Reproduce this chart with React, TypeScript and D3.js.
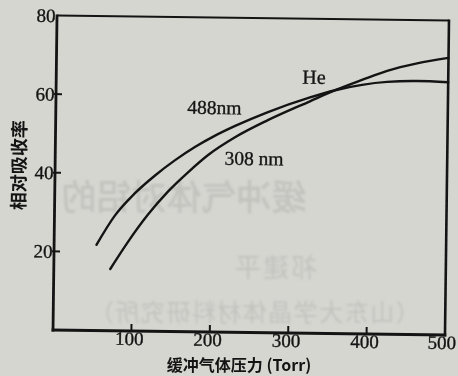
import React from "react";
import * as d3 from "d3";

const xTicks = [100, 200, 300, 400, 500];
const yTicks = [20, 40, 60, 80];

const pressure488 = [54, 77, 102, 128, 153, 178, 203, 229, 269, 324, 356, 422, 460, 500];
const abs488 = [21.8, 29.3, 35.0, 39.7, 43.6, 47.0, 49.9, 52.5, 56.0, 60.0, 61.9, 64.2, 64.5, 64.3];

const pressure308 = [72, 94, 119, 144, 170, 195, 229, 270, 324, 356, 390, 422, 460, 500];
const abs308 = [15.7, 22.6, 29.6, 35.5, 40.6, 45.0, 49.6, 54.0, 59.0, 61.9, 64.6, 67.0, 69.0, 70.5];

const xTitle = "缓冲气体压力 (Torr)";
const yTitle = "相对吸收率";
const label488 = "488nm";
const label308 = "308 nm";
const labelGas = "He";

const W = 458;
const H = 376;
const L = 55, R = 447, T = 18, B = 332.5;

export default function App() {
  const x = d3.scaleLinear().domain([0, 500]).range([L, R]);
  const y = d3.scaleLinear().domain([0, 80]).range([B, T]);
  const line = d3
    .line<[number, number]>()
    .x((d) => x(d[0]))
    .y((d) => y(d[1]))
    .curve(d3.curveMonotoneX);
  const d488 = line(pressure488.map((p, i) => [p, abs488[i]] as [number, number])) || "";
  const d308 = line(pressure308.map((p, i) => [p, abs308[i]] as [number, number])) || "";

  const ink = "#141414";
  const serif = "'Liberation Serif', 'DejaVu Serif', serif";
  const cjk = "'Noto Sans CJK SC', sans-serif";
  const ghost = "#c3c3be";

  return (
    <svg
      width={W}
      height={H}
      viewBox={`0 0 ${W} ${H}`}
      style={{ position: "absolute", left: 0, top: 0, display: "block" }}
    >
      <defs>
        <filter id="blur" x="-10%" y="-10%" width="120%" height="120%">
          <feGaussianBlur stdDeviation="1.1" />
        </filter>
      </defs>
      <rect x={0} y={0} width={W} height={H} fill="#d6d6d1" />
      {/* bleed-through from reverse side of page */}
      <g filter="url(#blur)" fill={ghost} fontFamily={cjk}>
        <text transform="translate(184,210) scale(-1,1)" fontSize={35} textAnchor="middle" fontWeight={500}>
          缓冲气体对铝的
        </text>
        <text transform="translate(275,277) scale(-1,1)" fontSize={26} textAnchor="middle" letterSpacing={2}>
          祁建平
        </text>
        <text transform="translate(254,321) scale(-1,1)" fontSize={24} textAnchor="middle" letterSpacing={1.5}>
          （山东大学晶体材料研究所）
        </text>
      </g>
      <g transform="rotate(0.73 250.8 175.3)">
        {/* frame */}
        <line x1={L} y1={T - 1} x2={L} y2={B + 1.5} stroke={ink} strokeWidth={2.8} />
        <line x1={L - 1.4} y1={B} x2={R + 1.3} y2={B} stroke={ink} strokeWidth={3} />
        <line x1={L} y1={T} x2={R} y2={T} stroke={ink} strokeWidth={2.2} />
        <line x1={R} y1={T - 1} x2={R} y2={B + 1.5} stroke={ink} strokeWidth={2.6} />
        {/* x ticks */}
        {xTicks.map((t) => (
          <g key={"x" + t}>
            {t < 500 && <line x1={x(t)} y1={B} x2={x(t)} y2={B - 7} stroke={ink} strokeWidth={2} />}
            <text
              x={t === 500 ? x(t) - 3 : x(t) - 2}
              y={B + 14}
              textAnchor="middle"
              fontFamily={serif}
              fontSize={19}
              fill={ink}
              stroke={ink}
              strokeWidth={0.35}
            >
              {t}
            </text>
          </g>
        ))}
        {/* y ticks */}
        {yTicks.map((t) => (
          <g key={"y" + t}>
            {t < 80 && <line x1={L - 2} y1={y(t)} x2={L + 6} y2={y(t)} stroke={ink} strokeWidth={2} />}
            <text
              x={L - 1.5}
              y={y(t) + 6.5}
              textAnchor="end"
              fontFamily={serif}
              fontSize={19}
              fill={ink}
              stroke={ink}
              strokeWidth={0.35}
            >
              {t}
            </text>
          </g>
        ))}
        {/* curves */}
        <path d={d488} fill="none" stroke={ink} strokeWidth={2.4} strokeLinecap="round" />
        <path d={d308} fill="none" stroke={ink} strokeWidth={2.4} strokeLinecap="round" />
        {/* labels */}
        <text x={213.6} y={114.5} textAnchor="middle" fontFamily={serif} fontSize={19.5} fill={ink} stroke={ink} strokeWidth={0.35}>
          {label488}
        </text>
        <text x={253.8} y={165} textAnchor="middle" fontFamily={serif} fontSize={19.5} fill={ink} stroke={ink} strokeWidth={0.35}>
          {label308}
        </text>
        <text x={312.7} y={83} textAnchor="middle" fontFamily={serif} fontSize={20} fill={ink} stroke={ink} strokeWidth={0.35}>
          {labelGas}
        </text>
        <text
          transform="translate(19,168) rotate(-90)"
          x={0}
          y={6.5}
          textAnchor="middle"
          fontFamily={cjk}
          fontSize={18}
          fontWeight={700}
          fill={ink}
        >
          {yTitle}
        </text>
      </g>
      {/* x axis title */}
      <text x={239} y={370.5} textAnchor="middle" fontFamily={cjk} fontSize={16} fontWeight={700} fill={ink}>
        {xTitle}
      </text>
    </svg>
  );
}
